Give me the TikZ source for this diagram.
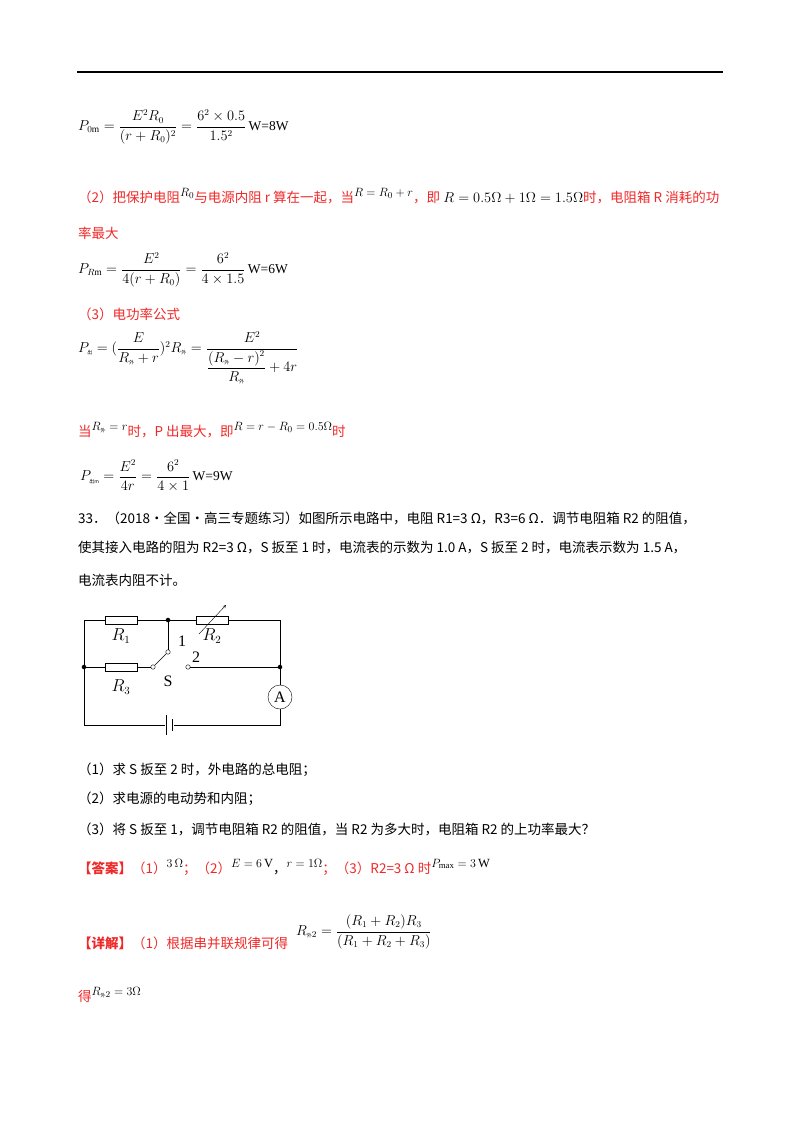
\documentclass[tikz,border=0pt]{standalone}
\usepackage{amsmath}
\usepackage{fontspec}
\setmainfont{Liberation Serif}
\newfontfamily\cjk{Noto Sans CJK SC}
\newcommand{\upm}[1]{\raisebox{6pt}{\fontsize{12.5}{13}\selectfont$#1$}}
\newcommand{\wai}{\mbox{\cjk\tiny 外}}
\usetikzlibrary{positioning}
\begin{document}
\begin{tikzpicture}[x=1pt,y=-1pt,
  txt/.style={anchor=west,inner sep=0pt,font=\fontsize{13.5}{15}\selectfont},
  red/.style={txt,text={rgb,255:red,240;green,40;blue,40}},
  res/.style={draw,fill=white,minimum width=32pt,minimum height=8pt,inner sep=0pt},
  dot/.style={circle,fill,inner sep=1.6pt},
  term/.style={circle,draw,fill=white,inner sep=1.6pt},
  lbl/.style={font=\fontsize{16}{16}\selectfont}]
\useasboundingbox (0,0) rectangle (800,1132);
\draw[line width=1.2pt] (77,72) -- (723,72);
% solution text
\node[txt] at (78,127) {$P_{0\mathrm{m}}=\dfrac{E^2R_0}{(r+R_0)^2}=\dfrac{6^2\times0.5}{1.5^2}\,$W=8W};
\node[red] at (78,196) {{\cjk （2）把保护电阻}\textcolor{black}{\upm{R_0}}{\cjk 与电源内阻 r 算在一起，当}\textcolor{black}{\upm{R=R_0+r}}{\cjk ，即} \textcolor{black}{$R=0.5\Omega+1\Omega=1.5\Omega$}{\cjk 时，电阻箱 R 消耗的功}};
\node[red] at (78,233) {\cjk 率最大};
\node[txt] at (78,270) {$P_{R\mathrm{m}}=\dfrac{E^2}{4(r+R_0)}=\dfrac{6^2}{4\times1.5}\,$W=6W};
\node[red] at (78,314) {\cjk （3）电功率公式};
\node[txt] at (78,358) {$P_{\mbox{\cjk\tiny 出}}=(\dfrac{E}{R_{\wai}+r})^2R_{\wai}=\dfrac{E^2}{\dfrac{(R_{\wai}-r)^2}{R_{\wai}}+4r}$};
\node[red] at (78,430) {{\cjk 当}\textcolor{black}{\upm{R_{\wai}=r}}{\cjk 时，P 出最大，即}\textcolor{black}{\upm{R=r-R_0=0.5\Omega}}{\cjk 时}};
\node[txt] at (80,476) {$P_{\mbox{\cjk\tiny 出m}}=\dfrac{E^2}{4r}=\dfrac{6^2}{4\times1}\,$W=9W};
% problem text
\node[txt] at (78,518) {\cjk 33．（2018•全国•高三专题练习）如图所示电路中，电阻 R1=3 Ω，R3=6 Ω．调节电阻箱 R2 的阻值，};
\node[txt] at (78,548) {\cjk 使其接入电路的阻为 R2=3 Ω，S 扳至 1 时，电流表的示数为 1.0 A，S 扳至 2 时，电流表示数为 1.5 A，};
\node[txt] at (78,580) {\cjk 电流表内阻不计。};
% circuit
\coordinate (tl) at (84,620);
\coordinate (bl) at (84,725);
\coordinate (tr) at (280,620);
\coordinate (br) at (280,725);
\node[dot] (jl) at (84,667) {};
\node[dot] (jt) at (168,620) {};
\node[dot] (jr) at (280,667) {};
\node[term] (sw) at (153,667) {};
\node[term] (c1) at (168,652) {};
\node[term] (c2) at (188,667) {};
\node[draw,circle,minimum size=24pt,inner sep=0pt,lbl] (amp) at (280,697) {A};
\coordinate (bat) at (169,725);
\draw (tl) -- (jt) -- (tr) -- (jr) -- (amp) -- (br) -- (bat);
\draw (bat) -- (bl) -- (jl) -- (tl);
\draw (jl) -- (sw);
\draw (jt) -- (c1);
\draw (sw) -- (c1);
\draw (c2) -- (jr);
\node[res] (R1) at (121,620) {};
\node[res] (R3) at (121,667) {};
\node[res] (R2) at (212,620) {};
\draw[->,>=stealth] (199,634) -- (226,605);
\draw[fill=white,draw=white] (165,715) rectangle (173,735);
\draw (166,715) -- (166,735);
\draw[line width=1pt] (172,719) -- (172,731);
\node[lbl,below=1pt of R1] {$R_1$};
\node[lbl,below=1pt of R2] {$R_2$};
\node[lbl,below=5pt of R3] {$R_3$};
\node[lbl] at (168,681) {S};
\node[lbl] at (182,641) {1};
\node[lbl] at (196,657) {2};
% questions
\node[txt] at (78,770) {\cjk （1）求 S 扳至 2 时，外电路的总电阻；};
\node[txt] at (78,799) {\cjk （2）求电源的电动势和内阻；};
\node[txt] at (78,829) {\cjk （3）将 S 扳至 1，调节电阻箱 R2 的阻值，当 R2 为多大时，电阻箱 R2 的上功率最大？};
\node[red] at (78,867) {{\cjk\bfseries 【答案】}{\cjk （1）}\textcolor{black}{\upm{3\,\Omega}}{\cjk ；（2）}\textcolor{black}{\upm{E=6\,\mathrm{V}}{\cjk ，}\upm{r=1\Omega}}{\cjk ；（3）R2=3 Ω 时}\textcolor{black}{\upm{P_{\max}=3\,\mathrm{W}}}};
\node[red] at (78,943) {{\cjk\bfseries 【详解】}{\cjk （1）根据串并联规律可得}};
\node[txt] at (296,932) {$R_{\wai2}=\dfrac{(R_1+R_2)R_3}{(R_1+R_2+R_3)}$};
\node[red] at (78,995) {{\cjk 得}\textcolor{black}{\upm{R_{\wai2}=3\Omega}}};
\end{tikzpicture}
\end{document}
